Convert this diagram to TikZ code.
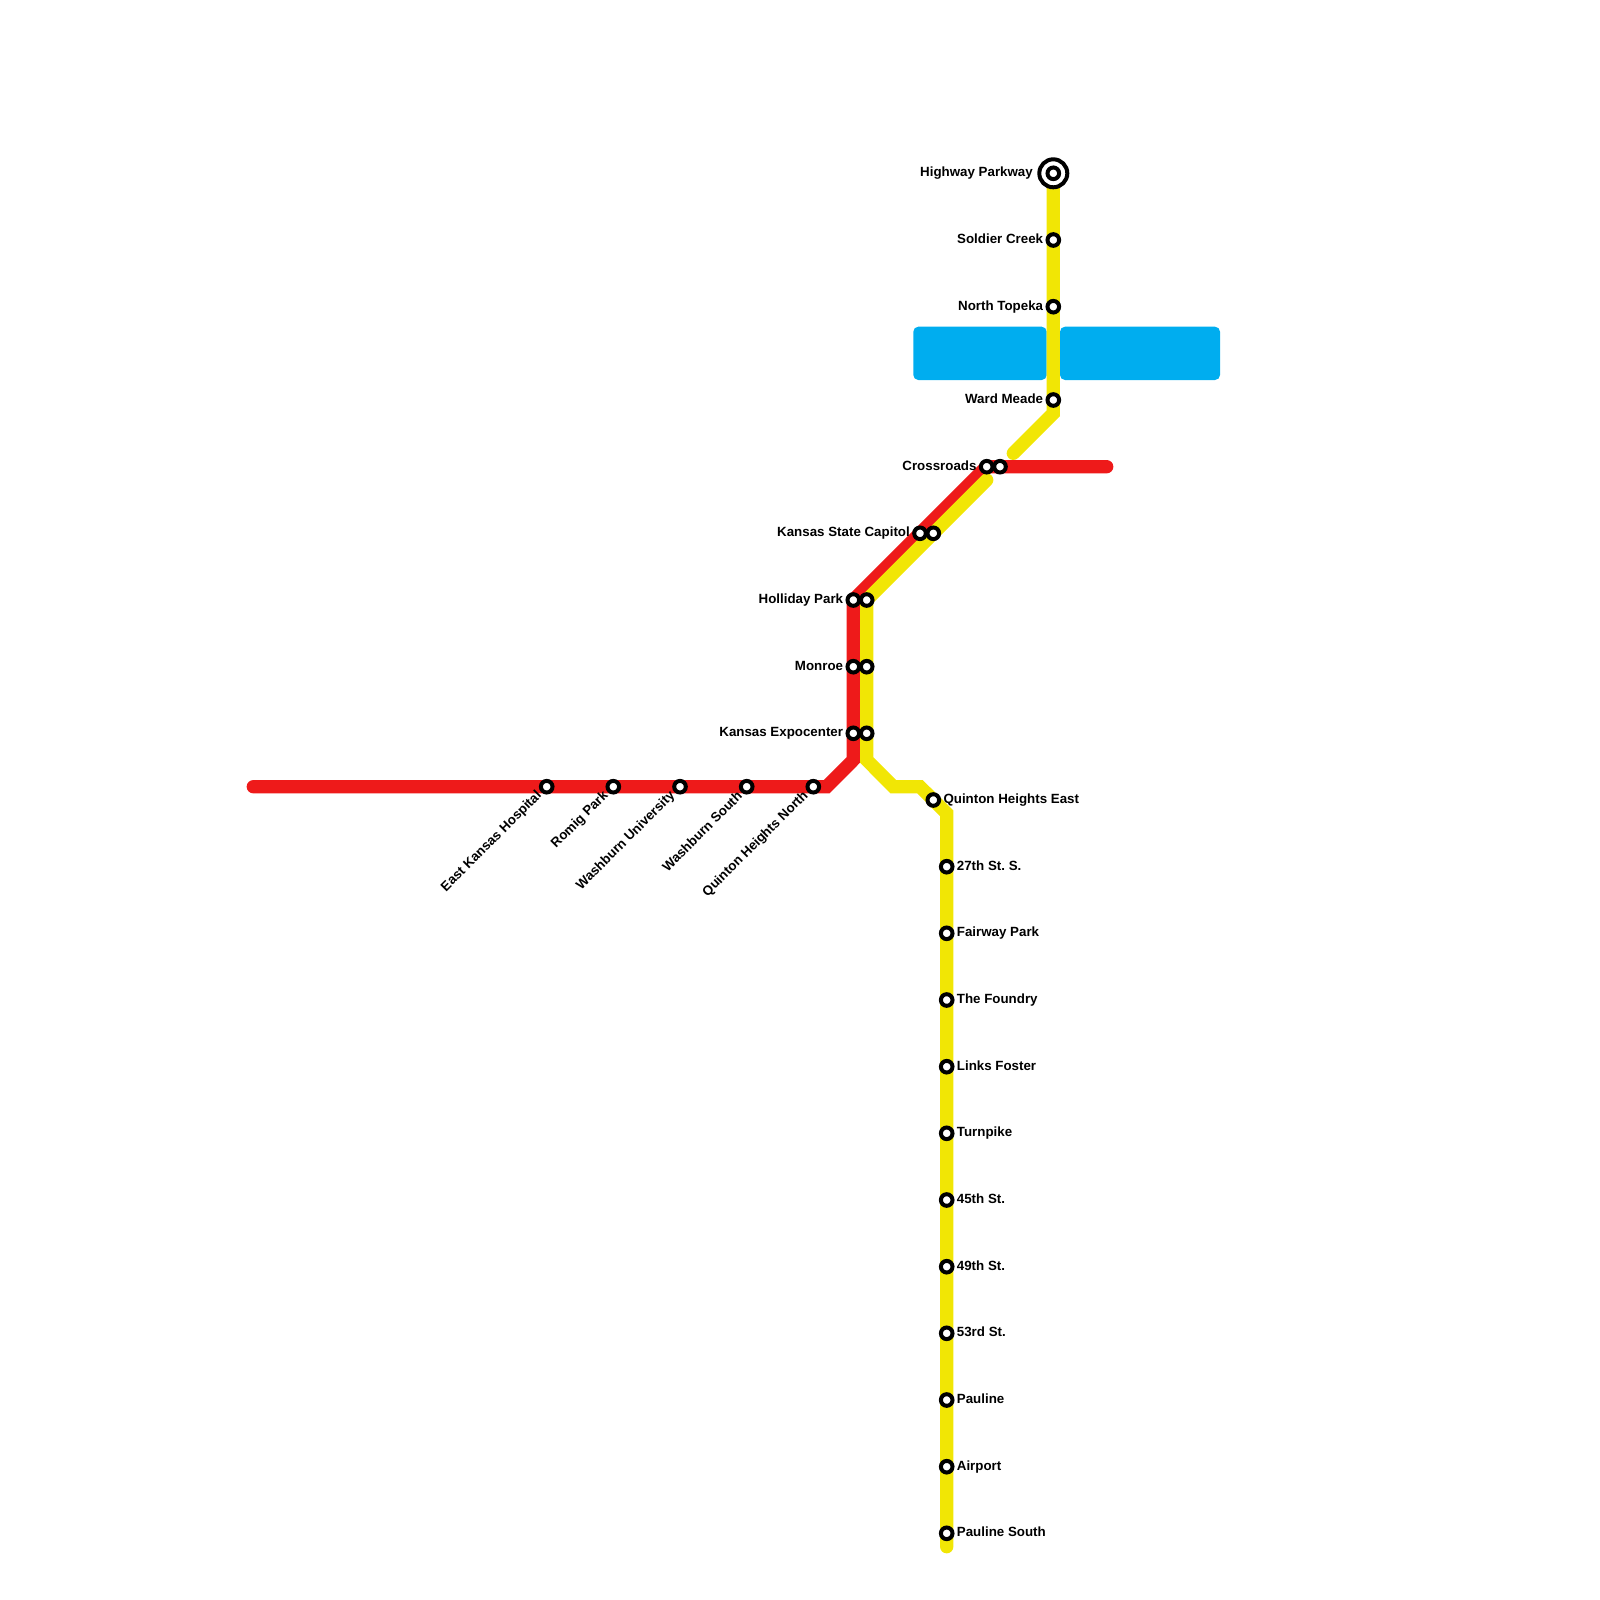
\documentclass[tikz,border=0pt]{standalone}
\usepackage{fontspec}
\setmainfont{Liberation Sans}
\usetikzlibrary{backgrounds}
\frenchspacing
\definecolor{linered}{HTML}{EE1A1A}
\definecolor{lineyellow}{HTML}{F1E605}
\definecolor{river}{HTML}{00ADEF}
\tikzset{
  metroline/.style={line width=13.33pt,line cap=round,line join=miter,miter limit=10},
  stop/.style={circle,draw=black,fill=white,line width=4pt,inner sep=0pt,minimum size=11.6pt},
  endring/.style={circle,draw=black,fill=white,line width=4pt,inner sep=0pt,minimum size=28pt},
  water/.style={fill=river,rounded corners=5pt},
  lab/.style={font=\fontsize{13.33}{14}\selectfont\bfseries,text=black,inner sep=0pt},
  labl/.style={lab,anchor=base east},
  labr/.style={lab,anchor=base west},
  labd/.style={lab,anchor=east,rotate=45}
}
\begin{document}
\begin{tikzpicture}[x=1pt,y=-1pt]
\useasboundingbox (0,0) rectangle (1600,1600);
% bend points and free ends
\coordinate (r0) at (253.3,786.7);
\coordinate (r1) at (826.7,786.7);
\coordinate (r2) at (853.3,760);
\coordinate (r3) at (1106.7,466.7);
\coordinate (y1) at (1053.3,413.3);
\coordinate (y2) at (1013.3,453.3);
\coordinate (y3) at (986.7,480);
\coordinate (y4) at (866.7,760);
\coordinate (y5) at (893.3,786.7);
\coordinate (y6) at (920,786.7);
\coordinate (y7) at (946.7,813.3);
\coordinate (y8) at (946.7,1546.7);
% stations
\node[stop] (ek) at (546.7,786.7) {};
\node[stop] (rp) at (613.3,786.7) {};
\node[stop] (wu) at (680,786.7) {};
\node[stop] (ws) at (746.7,786.7) {};
\node[stop] (qn) at (813.3,786.7) {};
\node[stop] (hr) at (853.3,600) {};
\node[stop] (hy) at (866.7,600) {};
\node[stop] (mr) at (853.3,666.7) {};
\node[stop] (my) at (866.7,666.7) {};
\node[stop] (er) at (853.3,733.3) {};
\node[stop] (ey) at (866.7,733.3) {};
\node[stop] (kr) at (920,533.3) {};
\node[stop] (ky) at (933.3,533.3) {};
\node[stop] (cr) at (986.7,466.7) {};
\node[stop] (cy) at (1000,466.7) {};
\node[endring] (hwo) at (1053.3,173.3) {};
\node[stop] (hw) at (hwo.center) {};
\node[stop] (sc) at (1053.3,240) {};
\node[stop] (nt) at (1053.3,306.7) {};
\node[stop] (wm) at (1053.3,400) {};
\node[stop] (qe) at (933.3,800) {};
\node[stop] (s27) at (946.7,866.7) {};
\node[stop] (fp) at (946.7,933.3) {};
\node[stop] (tf) at (946.7,1000) {};
\node[stop] (lf) at (946.7,1066.7) {};
\node[stop] (tp) at (946.7,1133.3) {};
\node[stop] (s45) at (946.7,1200) {};
\node[stop] (s49) at (946.7,1266.7) {};
\node[stop] (s53) at (946.7,1333.3) {};
\node[stop] (pl) at (946.7,1400) {};
\node[stop] (ap) at (946.7,1466.7) {};
\node[stop] (ps) at (946.7,1533.3) {};
% water and lines, under the stations
\begin{scope}[on background layer]
\fill[water] (913.3,326.7) rectangle (1046.7,380);
\fill[water] (1060,326.7) rectangle (1220,380);
\draw[metroline,linered] (r0) -- (ek.center) -- (qn.center) -- (r1) -- (r2) -- (hr.center) -- (cr.center) -- (cy.center) -- (r3);
\draw[metroline,lineyellow] (hw.center) -- (wm.center) -- (y1) -- (y2);
\draw[metroline,lineyellow] (y3) -- (hy.center) -- (y4) -- (y5) -- (y6) -- (y7) -- (y8);
\end{scope}
% labels left of the stations
\node[labl] (l1) at (1033,176.7) {Highway Parkway};
\node[labl] (l2) at (1043.3,243.4) {Soldier Creek};
\node[labl] (l3) at (1043.3,310.1) {North Topeka};
\node[labl] (l4) at (1043.3,403.4) {Ward Meade};
\node[labl] (l5) at (976.7,470.1) {Crossroads};
\node[labl] (l6) at (910,536.7) {Kansas State Capitol};
\node[labl] (l7) at (843.3,603.4) {Holliday Park};
\node[labl] (l8) at (843.3,670.1) {Monroe};
\node[labl] (l9) at (843.3,736.7) {Kansas Expocenter};
% labels right of the stations
\node[labr] (l10) at (943.3,803.4) {Quinton Heights East};
\node[labr] (l11) at (956.7,870.1) {27th St. S.};
\node[labr] (l12) at (956.7,936.7) {Fairway Park};
\node[labr] (l13) at (956.7,1003.4) {The Foundry};
\node[labr] (l14) at (956.7,1070.1) {Links Foster};
\node[labr] (l15) at (956.7,1136.7) {Turnpike};
\node[labr] (l16) at (956.7,1203.4) {45th St.};
\node[labr] (l17) at (956.7,1270.1) {49th St.};
\node[labr] (l18) at (956.7,1336.7) {53rd St.};
\node[labr] (l19) at (956.7,1403.4) {Pauline};
\node[labr] (l20) at (956.7,1470.1) {Airport};
\node[labr] (l21) at (956.7,1536.7) {Pauline South};
% slanted labels
\node[labd] (l22) at (539.7,793.7) {East Kansas Hospital};
\node[labd] (l23) at (606.3,793.7) {Romig Park};
\node[labd] (l24) at (673,793.7) {Washburn University};
\node[labd] (l25) at (739.7,793.7) {Washburn South};
\node[labd] (l26) at (806.3,793.7) {Quinton Heights North};
\end{tikzpicture}
\end{document}
